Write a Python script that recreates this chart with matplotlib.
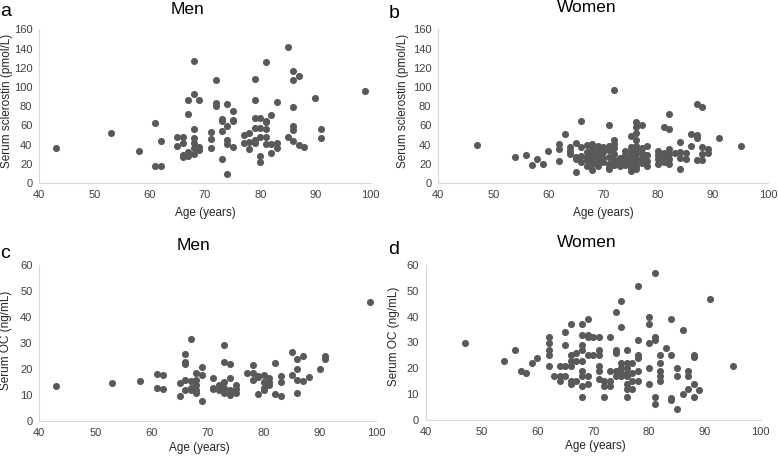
import matplotlib
matplotlib.use("Agg")
import matplotlib.pyplot as plt

W, H = 778, 457

# panel a: men, sclerostin
men_scl_age = [43, 53, 58, 61, 61, 62, 62, 65, 65, 66, 66, 66, 66, 67, 67, 67, 67,
               68, 68, 68, 68, 68, 68, 68, 69, 69, 69, 71, 71, 71, 72, 72, 72,
               73, 73, 73, 73, 74, 74, 74, 74, 74, 75, 75, 75, 75, 77, 77,
               78, 78, 78, 79, 79, 79, 79, 79, 79, 80, 80, 80, 80, 80,
               81, 81, 81, 81, 81, 81, 82, 82, 82, 83, 83, 83, 85, 85,
               86, 86, 86, 86, 86, 86, 87, 87, 88, 90, 91, 91, 99]
men_scl = [36, 52, 33, 62, 18, 44, 18, 48, 39, 48, 42, 29, 27, 86, 72, 32, 28,
           127, 93, 56, 47, 42, 36, 30, 86, 37, 34, 53, 46, 36, 107, 83, 80,
           67, 65, 54, 25, 82, 59, 45, 41, 9, 75, 66, 65, 37, 50, 42,
           52, 43, 35, 108, 86, 68, 57, 45, 42, 68, 57, 48, 28, 22,
           126, 65, 63, 56, 48, 41, 71, 41, 31, 84, 42, 36, 142, 48,
           117, 107, 79, 59, 55, 44, 111, 40, 37, 88, 56, 47, 96]

# panel b: women, sclerostin
women_scl_age = [47, 54, 56, 57, 58, 59, 60, 62, 62, 62, 63, 64, 64, 64,
                 65, 65, 65, 65, 66, 66, 66, 66, 67, 67, 67, 67, 67,
                 68, 68, 68, 68, 68, 68, 69, 69, 69, 69, 69, 69, 70, 70, 70, 70,
                 71, 71, 71, 71, 71, 71, 71, 72, 72, 72, 72, 72, 72, 72,
                 73, 73, 73, 73, 74, 74, 74, 74, 74,
                 75, 75, 75, 75, 75, 75, 75, 75,
                 76, 76, 76, 76, 76, 76, 76, 76, 76, 76, 76,
                 77, 77, 77, 77, 77, 78, 78, 78, 78, 80, 80, 80, 80,
                 81, 81, 81, 81, 82, 82, 82, 82, 82, 82, 83, 84, 84, 84, 84,
                 85, 85, 86, 86, 87, 87, 87, 87, 88, 88, 88, 88, 89, 89, 91, 95]
women_scl = [40, 27, 29, 19, 25, 20, 33, 41, 35, 23, 51, 37, 33, 30,
             42, 27, 25, 11, 65, 37, 22, 28, 40, 32, 27, 18, 24,
             41, 35, 30, 25, 20, 14, 38, 33, 28, 22, 18, 27, 37, 32, 26, 22,
             60, 38, 34, 27, 20, 15, 17, 97, 45, 41, 36, 30, 24, 19,
             26, 22, 18, 21, 33, 29, 25, 22, 19,
             49, 37, 33, 28, 24, 20, 16, 12,
             63, 58, 52, 45, 39, 34, 30, 25, 22, 18, 15,
             60, 36, 31, 26, 21, 39, 29, 23, 18, 33, 29, 25, 20,
             58, 31, 26, 22, 72, 56, 35, 30, 25, 20, 31, 43, 32, 26, 15,
             31, 25, 51, 38, 82, 50, 47, 24, 79, 37, 30, 24, 35, 31, 47, 39]

# panel c: men, osteocalcin
men_oc_age = [43, 53, 58, 61, 61, 62, 62, 65, 65, 66, 66, 66, 66, 66,
              67, 67, 67, 67, 68, 68, 68, 68, 68, 69, 69, 69,
              71, 71, 71, 72, 72, 73, 73, 73, 73, 73, 74, 74, 74, 74,
              75, 75, 75, 77, 78, 78, 78, 79, 79, 79,
              80, 80, 80, 80, 81, 81, 81, 82, 82, 83, 83, 83,
              85, 85, 86, 86, 86, 86, 87, 87, 88, 90, 91, 91, 99]
men_oc = [13.6, 14.6, 15.6, 18.2, 13, 17.7, 12.6, 14.7, 9.9, 25.8, 23, 22, 16, 12,
          31.7, 15.4, 13, 12, 18.5, 16, 14, 12, 11, 21, 18, 8,
          16.5, 13, 12.5, 14, 12, 29.5, 23, 15, 13, 11, 22, 16.5, 12, 10,
          14, 12.5, 11, 18.5, 21.5, 18.5, 16, 17.5, 17, 10.5,
          18, 15, 13, 12, 16.5, 15, 14, 22.5, 10.5, 17.5, 15, 9.8,
          26.5, 18, 24, 20, 16, 11, 25, 15.5, 17, 20, 25, 24, 46]

# panel d: women, osteocalcin
women_oc_age = [47, 54, 56, 57, 58, 59, 60, 62, 62, 62, 62, 62, 63, 64, 64, 64,
                65, 65, 65, 65, 66, 66, 66, 66, 66, 66, 67, 67, 67,
                68, 68, 68, 68, 68, 68, 68, 68, 68, 69, 69, 69, 69, 69, 69, 70, 70,
                71, 71, 71, 71, 71, 71, 72, 72, 72, 73, 73, 73, 73,
                74, 74, 74, 74, 74, 75, 75, 75, 75, 75, 75,
                76, 76, 76, 76, 76, 76, 76, 76, 77, 77, 77, 77,
                78, 78, 78, 78, 78, 78, 80, 80, 80, 80, 80,
                81, 81, 81, 81, 81, 82, 82, 82, 82, 82, 83, 84, 84, 84, 84,
                85, 85, 85, 86, 86, 87, 87, 87, 88, 88, 88, 88, 89, 91, 95]
women_oc = [30, 23, 27, 19, 18, 22, 24, 32, 30, 27, 25, 21, 17, 21, 17, 15,
            34, 29, 21, 17, 37, 25, 23, 21, 15, 14, 26, 23, 15,
            37, 33, 29, 27, 23, 19, 17, 13, 9, 39, 33, 32, 25, 17, 14, 32, 25,
            32, 27, 25, 21, 19, 16, 15, 13, 9, 32, 19, 15, 13,
            42, 27, 26, 19, 17, 46, 36, 22, 20, 18, 17,
            27, 22, 20, 18, 17, 14, 12, 9, 22, 18, 15, 12,
            52, 31, 25, 24, 19, 15, 40, 37, 30, 20, 14,
            57, 32, 31, 9, 6, 25, 22, 19, 17, 15, 28, 39, 25, 8.5, 7.7,
            20, 17, 4, 35, 10, 19, 17, 12, 25, 24.5, 14, 9, 11.5, 47, 21]

DOT = "#595959"
AXIS = "#d9d9d9"


def fx(x):
    return x / W


def fy(y):
    return 1 - y / H


def panel(fig, box, ages, vals, ymax, ystep, ylabel, ylab_xy, xlab_xy,
          title, title_xy, letter, letter_xy):
    left, top, right, bottom = box
    ax = fig.add_axes([fx(left), fy(bottom), (right - left) / W, (bottom - top) / H])
    ax.scatter(ages, vals, s=26, color=DOT, linewidths=0, zorder=3, clip_on=False)
    ax.set_xlim(40, 100)
    ax.set_ylim(0, ymax)
    ax.set_xticks(range(40, 101, 10))
    ax.set_yticks(range(0, ymax + 1, ystep))
    for s in ["top", "right"]:
        ax.spines[s].set_visible(False)
    for s in ["left", "bottom"]:
        ax.spines[s].set_color(AXIS)
        ax.spines[s].set_linewidth(0.8)
    ax.tick_params(length=0, labelsize=8, labelcolor="#404040", pad=5)
    ax.set_facecolor("none")
    fig.text(fx(xlab_xy[0]), fy(xlab_xy[1]), "Age (years)", fontsize=8.5,
             ha="center", va="center", color="#262626")
    fig.text(fx(ylab_xy[0]), fy(ylab_xy[1]), ylabel, fontsize=8.5, rotation=90,
             ha="center", va="center", color="#262626")
    fig.text(fx(title_xy[0]), fy(title_xy[1]), title, fontsize=12.5,
             ha="center", va="center")
    fig.text(fx(letter_xy[0]), fy(letter_xy[1]), letter, fontsize=14,
             ha="center", va="center")
    return ax


plt.rcParams["font.family"] = ["Liberation Sans", "DejaVu Sans"]
fig = plt.figure(figsize=(7.78, 4.57), dpi=100)

panel(fig, (39.3, 29.3, 370.7, 183), men_scl_age, men_scl, 160, 20,
      "Serum sclerostin (pmol/L)", (7, 101), (205, 213),
      "Men", (188, 9), "a", (6, 12))
panel(fig, (438.3, 29.3, 768, 183), women_scl_age, women_scl, 160, 20,
      "Serum sclerostin (pmol/L)", (403, 101), (603, 213),
      "Women", (587, 8), "b", (394, 13))
panel(fig, (39.3, 265.3, 376, 421.3), men_oc_age, men_oc, 60, 10,
      "Serum OC (ng/mL)", (6, 340), (199, 448),
      "Men", (194, 245), "c", (5, 254))
panel(fig, (425.7, 265.3, 760.7, 419.7), women_oc_age, women_oc, 60, 10,
      "Serum OC (ng/mL)", (394, 336), (595, 446),
      "Women", (587, 243), "d", (394, 250))

fig.savefig("out.png", dpi=100)
